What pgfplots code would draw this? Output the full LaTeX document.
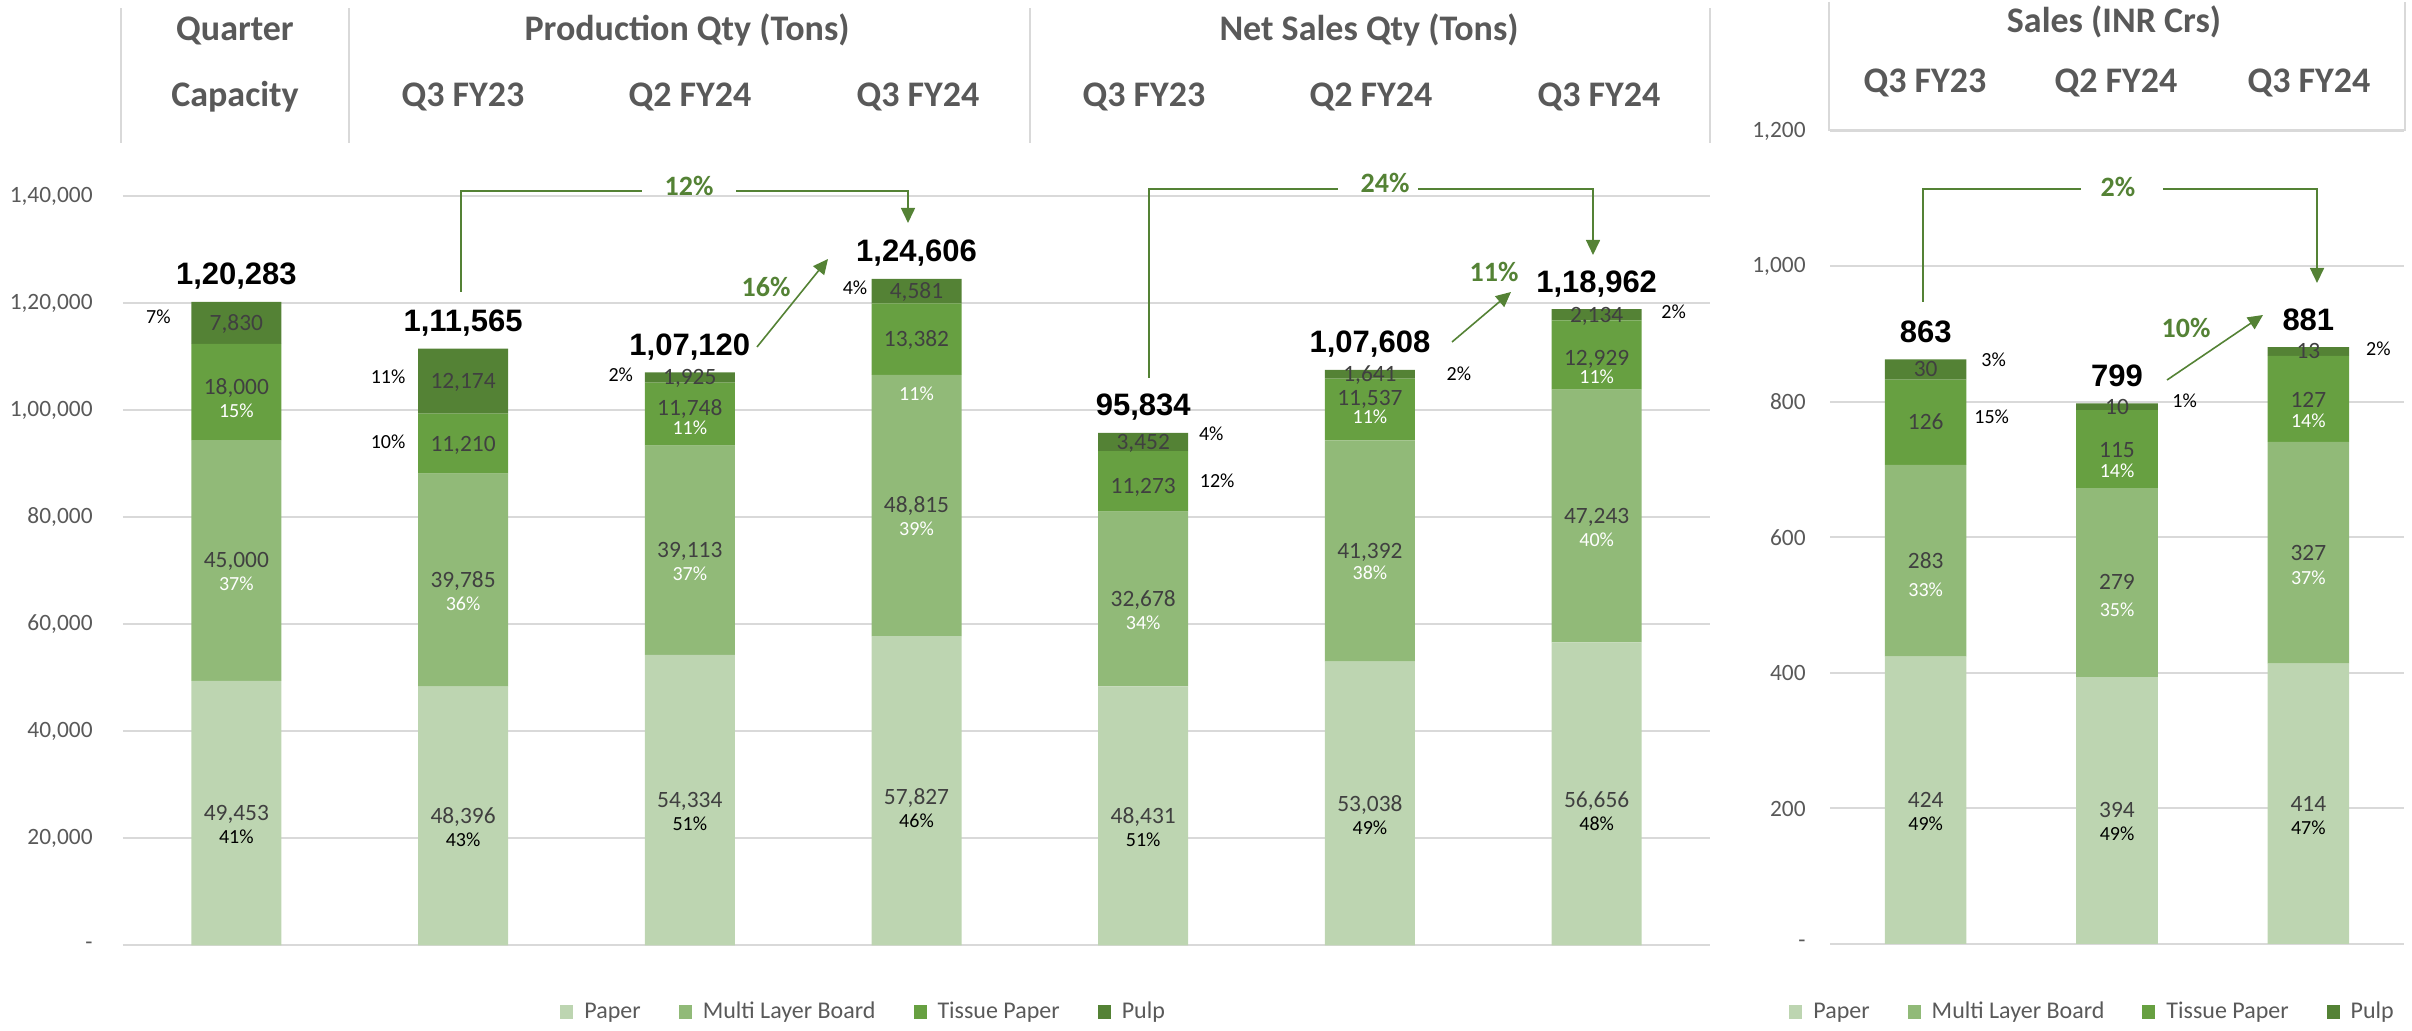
\documentclass[border=0pt]{standalone}
\usepackage{pgfplots}
\pgfplotsset{compat=1.18}
\usepackage{pgfplotstable}
\usepackage{fontspec}
\setmainfont{Carlito}
\newfontfamily\arialf{Liberation Sans}
\usetikzlibrary{arrows.meta}
\definecolor{paperc}{HTML}{BDD5B1}
\definecolor{mlbc}{HTML}{91BA78}
\definecolor{tissuec}{HTML}{67A041}
\definecolor{pulpc}{HTML}{548235}
\definecolor{gridc}{HTML}{D9D9D9}
\definecolor{hdrc}{HTML}{595959}
\definecolor{valc}{HTML}{404040}
\definecolor{grn}{HTML}{548235}

\pgfplotstableread{
x paper mlb tissue pulp
0 49453 45000 18000 7830
1 48396 39785 11210 12174
2 54334 39113 11748 1925
3 57827 48815 13382 4581
4 48431 32678 11273 3452
5 53038 41392 11537 1641
6 56656 47243 12929 2134
}\leftdata
\pgfplotstableread{
x paper mlb tissue pulp
0 424 283 126 30
1 394 279 115 10
2 414 327 127 13
}\rightdata

\tikzset{
 val/.style={font=\fontsize{11.7}{12}\selectfont, text=valc, anchor=base, inner sep=0pt},
 pw/.style={font=\fontsize{10}{11}\selectfont, text=white, anchor=base, inner sep=0pt},
 pb/.style={font=\fontsize{10}{11}\selectfont, text=black, anchor=base, inner sep=0pt},
 tot/.style={font=\arialf\bfseries\fontsize{15.5}{16}\selectfont, text=black, anchor=base, inner sep=0pt, yshift=8.5pt},
 hdr/.style={font=\bfseries\fontsize{18}{20}\selectfont, text=hdrc, anchor=base, inner sep=0pt},
 gr/.style={font=\bfseries\fontsize{14}{15}\selectfont, text=grn, inner sep=0pt},
 gl/.style={grn, line width=0.8pt},
 ga/.style={grn, line width=0.8pt, -{Triangle[length=7.5pt,width=7pt]}},
}
\pgfplotsset{
 common/.style={
  scale only axis, xtick=\empty,
  scaled y ticks=false,
  ymajorgrids, grid style={gridc, line width=1pt},
  axis line style={draw=none}, major tick length=0pt,
  clip=false, legend columns=4, legend cell align=left,
  yticklabel style={font=\fontsize{11.7}{12}\selectfont, text=hdrc, anchor=east, inner sep=0pt},
 },
 leftgeom/.style={scale only axis, at={(61.5pt,42.75pt)}, anchor=south west,
  width=793.5pt, height=401.25pt, xmin=-0.5, xmax=6.5, ymin=0, ymax=150000},
 rightgeom/.style={scale only axis, at={(915pt,43.5pt)}, anchor=south west,
  width=287pt, height=406.5pt, xmin=-0.5, xmax=2.5, ymin=0, ymax=1200},
 mylegend/.style={legend style={at={#1}, anchor=west, draw=none, fill=none,
  inner xsep=0pt, inner ysep=0pt, font=\fontsize{12}{13}\selectfont,
  nodes={inner sep=0pt, text=hdrc}, column sep=0pt}},
}
\newcommand{\sq}[1]{\fill[#1] (0pt,-3.5pt) rectangle (6.5pt,3.5pt);}
\newcommand{\legtxt}[1]{\rule{5.5pt}{0pt}#1\rule{19pt}{0pt}}

\begin{document}
\begin{tikzpicture}[x=0.5pt,y=0.5pt]
\useasboundingbox (0,0) rectangle (2412,1031);

% ---------------- left panel ----------------
\begin{axis}[common, leftgeom, ybar stacked,
 bar width=45pt,
 ytick={0,20000,40000,60000,80000,100000,120000,140000},
 yticklabels={-\hspace{11.5pt},{20,000},{40,000},{60,000},{80,000},{1,00,000},{1,20,000},{1,40,000}},
 yticklabel style={xshift=-15pt},
 mylegend={(axis description cs:0.2754,-0.0829)},
]
\addplot[fill=paperc, draw=none, legend image code/.code={\sq{paperc}}] table[x=x,y=paper]{\leftdata};
\addplot[fill=mlbc, draw=none, legend image code/.code={\sq{mlbc}}] table[x=x,y=mlb]{\leftdata};
\addplot[fill=tissuec, draw=none, legend image code/.code={\sq{tissuec}}] table[x=x,y=tissue]{\leftdata};
\addplot[fill=pulpc, draw=none, legend image code/.code={\sq{pulpc}}] table[x=x,y=pulp]{\leftdata};
\legend{\legtxt{Paper}, \legtxt{Multi Layer Board}, \legtxt{Tissue Paper}, \rule{5.5pt}{0pt}Pulp}
\end{axis}

% labels for left panel (overlay axis with the same geometry)
\begin{axis}[leftgeom, hide axis, clip=false]
% totals
\node[tot] at (axis cs:0,120283) {1,20,283};
\node[tot] at (axis cs:1,111565) {1,11,565};
\node[tot] at (axis cs:2,107120) {1,07,120};
\node[tot] at (axis cs:3,124605) {1,24,606};
\node[tot] at (axis cs:4,95834) {95,834};
\node[tot] at (axis cs:5,107608) {1,07,608};
\node[tot] at (axis cs:6,118962) {1,18,962};
% bar 0
\node[val, yshift=-3.7pt] at (axis cs:0,116368) {7,830};
\node[pb, yshift=-0.2pt, xshift=-39pt] at (axis cs:0,116368) {7\%};
\node[val, yshift=-1.2pt] at (axis cs:0,103453) {18,000};
\node[pw, yshift=-12.7pt] at (axis cs:0,103453) {15\%};
\node[val, yshift=-3.7pt] at (axis cs:0,71953) {45,000};
\node[pw, yshift=-15.2pt] at (axis cs:0,71953) {37\%};
\node[val, yshift=-3.7pt] at (axis cs:0,24726) {49,453};
\node[pb, yshift=-15.2pt] at (axis cs:0,24726) {41\%};
% bar 1
\node[val, yshift=-3.7pt] at (axis cs:1,105478) {12,174};
\node[pb, yshift=-1.2pt, xshift=-37.5pt] at (axis cs:1,105478) {11\%};
\node[val, yshift=-3.7pt] at (axis cs:1,93786) {11,210};
\node[pb, yshift=-2.2pt, xshift=-37.5pt] at (axis cs:1,93786) {10\%};
\node[val, yshift=-3.7pt] at (axis cs:1,68288) {39,785};
\node[pw, yshift=-15.2pt] at (axis cs:1,68288) {36\%};
\node[val, yshift=-3.7pt] at (axis cs:1,24198) {48,396};
\node[pb, yshift=-15.2pt] at (axis cs:1,24198) {43\%};
% bar 2
\node[val, yshift=-3.7pt] at (axis cs:2,106157) {1,925};
\node[pb, yshift=-2.2pt, xshift=-34.5pt] at (axis cs:2,106157) {2\%};
\node[val, yshift=-0.7pt] at (axis cs:2,99321) {11,748};
\node[pw, yshift=-10pt] at (axis cs:2,99321) {11\%};
\node[val, yshift=-3.7pt] at (axis cs:2,73890) {39,113};
\node[pw, yshift=-15.2pt] at (axis cs:2,73890) {37\%};
\node[val, yshift=-3.7pt] at (axis cs:2,27167) {54,334};
\node[pb, yshift=-15.2pt] at (axis cs:2,27167) {51\%};
% bar 3
\node[val, yshift=-3.7pt] at (axis cs:3,122314) {4,581};
\node[pb, yshift=-1.7pt, xshift=-30.75pt] at (axis cs:3,122314) {4\%};
\node[val, yshift=-3.7pt] at (axis cs:3,113333) {13,382};
\node[pw, yshift=-30.7pt] at (axis cs:3,113333) {11\%};
\node[val, yshift=-3.7pt] at (axis cs:3,82234) {48,815};
\node[pw, yshift=-15.2pt] at (axis cs:3,82234) {39\%};
\node[val, yshift=-6.7pt] at (axis cs:3,28913) {57,827};
\node[pb, yshift=-18.2pt] at (axis cs:3,28913) {46\%};
% bar 4
\node[val, yshift=-3.7pt] at (axis cs:4,94108) {3,452};
\node[pb, yshift=0.8pt, xshift=34pt] at (axis cs:4,94108) {4\%};
\node[val, yshift=-6.2pt] at (axis cs:4,86745) {11,273};
\node[pb, yshift=-3.2pt, xshift=37pt] at (axis cs:4,86745) {12\%};
\node[val, yshift=-3.7pt] at (axis cs:4,64770) {32,678};
\node[pw, yshift=-15.2pt] at (axis cs:4,64770) {34\%};
\node[val, yshift=-3.7pt] at (axis cs:4,24215) {48,431};
\node[pb, yshift=-15.2pt] at (axis cs:4,24215) {51\%};
% bar 5
\node[val, yshift=-3.7pt] at (axis cs:5,106787) {1,641};
\node[pb, yshift=-3.2pt, xshift=44.5pt] at (axis cs:5,106787) {2\%};
\node[val, yshift=1.8pt] at (axis cs:5,100198) {11,537};
\node[pw, yshift=-7.2pt] at (axis cs:5,100198) {11\%};
\node[val, yshift=-3.7pt] at (axis cs:5,73734) {41,392};
\node[pw, yshift=-14.2pt] at (axis cs:5,73734) {38\%};
\node[val, yshift=-3.7pt] at (axis cs:5,26519) {53,038};
\node[pb, yshift=-15.2pt] at (axis cs:5,26519) {49\%};
% bar 6
\node[val, yshift=-3.7pt] at (axis cs:6,117895) {2,134};
\node[pb, yshift=-1.8pt, xshift=38.5pt] at (axis cs:6,117895) {2\%};
\node[val, yshift=-5.2pt] at (axis cs:6,110363) {12,929};
\node[pw, yshift=-14.2pt] at (axis cs:6,110363) {11\%};
\node[val, yshift=-3.7pt] at (axis cs:6,80277) {47,243};
\node[pw, yshift=-15.2pt] at (axis cs:6,80277) {40\%};
\node[val, yshift=-6.7pt] at (axis cs:6,28328) {56,656};
\node[pb, yshift=-18.2pt] at (axis cs:6,28328) {48\%};
\end{axis}

% ---------------- right panel ----------------
\begin{axis}[common, rightgeom, ybar stacked,
 bar width=40.8pt,
 ytick={0,200,400,600,800,1000,1200},
 yticklabels={-\hspace{14.5pt},200,400,600,800,{1,000},{1,200}},
 yticklabel style={xshift=-12pt},
 mylegend={(axis description cs:-0.0714,-0.0836)},
]
\addplot[fill=paperc, draw=none, legend image code/.code={\sq{paperc}}] table[x=x,y=paper]{\rightdata};
\addplot[fill=mlbc, draw=none, legend image code/.code={\sq{mlbc}}] table[x=x,y=mlb]{\rightdata};
\addplot[fill=tissuec, draw=none, legend image code/.code={\sq{tissuec}}] table[x=x,y=tissue]{\rightdata};
\addplot[fill=pulpc, draw=none, legend image code/.code={\sq{pulpc}}] table[x=x,y=pulp]{\rightdata};
\legend{\legtxt{Paper}, \legtxt{Multi Layer Board}, \legtxt{Tissue Paper}, \rule{5.5pt}{0pt}Pulp}
\end{axis}

\begin{axis}[rightgeom, hide axis, clip=false]
\node[tot] at (axis cs:0,863) {863};
\node[tot] at (axis cs:1,798) {799};
\node[tot] at (axis cs:2,881) {881};
% bar 0
\node[val, yshift=-3.7pt] at (axis cs:0,848) {30};
\node[pb, yshift=1.3pt, xshift=34pt] at (axis cs:0,848) {3\%};
\node[val, yshift=-3.7pt] at (axis cs:0,770) {126};
\node[pb, yshift=-0.7pt, xshift=33pt] at (axis cs:0,770) {15\%};
\node[val, yshift=-3.7pt] at (axis cs:0,565.5) {283};
\node[pw, yshift=-17.7pt] at (axis cs:0,565.5) {33\%};
\node[val, yshift=-3.7pt] at (axis cs:0,212) {424};
\node[pb, yshift=-15.2pt] at (axis cs:0,212) {49\%};
% bar 1
\node[val, yshift=-3.7pt] at (axis cs:1,793) {10};
\node[pb, yshift=-0.2pt, xshift=33.8pt] at (axis cs:1,793) {1\%};
\node[val, yshift=-4.2pt] at (axis cs:1,730.5) {115};
\node[pw, yshift=-14.2pt] at (axis cs:1,730.5) {14\%};
\node[val, yshift=-3.7pt] at (axis cs:1,533.5) {279};
\node[pw, yshift=-17.2pt] at (axis cs:1,533.5) {35\%};
\node[val, yshift=-3.7pt] at (axis cs:1,197) {394};
\node[pb, yshift=-15.2pt] at (axis cs:1,197) {49\%};
% bar 2
\node[val, yshift=-3.7pt] at (axis cs:2,874.5) {13};
\node[pb, yshift=-2.2pt, xshift=35pt] at (axis cs:2,874.5) {2\%};
\node[val, yshift=-4.2pt] at (axis cs:2,804.5) {127};
\node[pw, yshift=-14.2pt] at (axis cs:2,804.5) {14\%};
\node[val, yshift=-3.7pt] at (axis cs:2,577.5) {327};
\node[pw, yshift=-15.7pt] at (axis cs:2,577.5) {37\%};
\node[val, yshift=-3.7pt] at (axis cs:2,207) {414};
\node[pb, yshift=-15.2pt] at (axis cs:2,207) {47\%};
\end{axis}

% ---------------- headers ----------------
\foreach \xx in {121,349,1030,1710} \draw[gridc, line width=1pt] (\xx,888)--(\xx,1023);
\node[hdr] at (235,990) {Quarter};
\node[hdr] at (235,924) {Capacity};
\node[hdr] at (687,990) {Production Qty (Tons)};
\node[hdr] at (463,924) {Q3 FY23};
\node[hdr] at (690,924) {Q2 FY24};
\node[hdr] at (918,924) {Q3 FY24};
\node[hdr] at (1369,990) {Net Sales Qty (Tons)};
\node[hdr] at (1144,924) {Q3 FY23};
\node[hdr] at (1371,924) {Q2 FY24};
\node[hdr] at (1599,924) {Q3 FY24};
\draw[gridc, line width=1.2pt] (1829,1029)--(1829,901)--(2405,901)--(2405,1029);
\node[hdr] at (2114,998) {Sales (INR Crs)};
\node[hdr] at (1925,938) {Q3 FY23};
\node[hdr] at (2116,938) {Q2 FY24};
\node[hdr] at (2309,938) {Q3 FY24};

% ---------------- growth annotations ----------------
\draw[gl] (461,739)--(461,840)--(642,840);
\draw[ga] (736,840)--(908,840)--(908,808);
\node[gr] at (689,845) {12\%};
\draw[gl] (1149,653)--(1149,842)--(1338,842);
\draw[ga] (1418,842)--(1593,842)--(1593,776);
\node[gr] at (1385,848) {24\%};
\draw[gl] (1923,729)--(1923,842)--(2081,842);
\draw[ga] (2163,842)--(2317,842)--(2317,748);
\node[gr] at (2118,844) {2\%};
\draw[ga] (757,684)--(828,772);
\node[gr] at (766,744) {16\%};
\draw[ga] (1452,689)--(1511,739);
\node[gr] at (1494,759) {11\%};
\draw[ga] (2167,651)--(2263,716);
\node[gr] at (2186,703) {10\%};
\end{tikzpicture}
\end{document}
